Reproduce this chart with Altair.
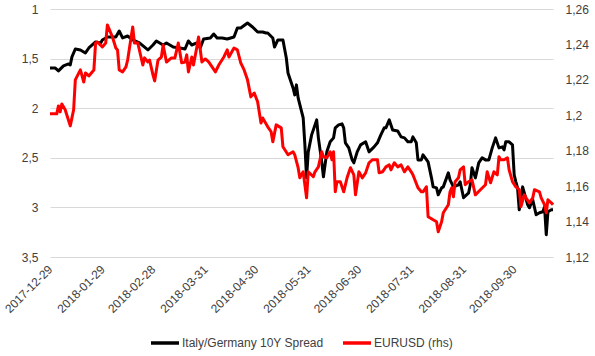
import altair as alt
import pandas as pd

SPREAD_NAME = "Italy/Germany 10Y Spread"
FX_NAME = "EURUSD (rhs)"

spread_dates = [
    "2017-12-29", "2018-01-01", "2018-01-03", "2018-01-06", "2018-01-09", "2018-01-10",
    "2018-01-11", "2018-01-13", "2018-01-16", "2018-01-19", "2018-01-21", "2018-01-25",
    "2018-01-28", "2018-01-29", "2018-02-01", "2018-02-06", "2018-02-08", "2018-02-10",
    "2018-02-13", "2018-02-16", "2018-02-20", "2018-02-25", "2018-02-28", "2018-03-02",
    "2018-03-06", "2018-03-08", "2018-03-12", "2018-03-16", "2018-03-19", "2018-03-21",
    "2018-03-23", "2018-03-26", "2018-03-28", "2018-03-30", "2018-04-03", "2018-04-05",
    "2018-04-07", "2018-04-10", "2018-04-13", "2018-04-17", "2018-04-19", "2018-04-21",
    "2018-04-25", "2018-04-28", "2018-05-01", "2018-05-04", "2018-05-06", "2018-05-07",
    "2018-05-10", "2018-05-11", "2018-05-13", "2018-05-16", "2018-05-18", "2018-05-19",
    "2018-05-22", "2018-05-23", "2018-05-24", "2018-05-25", "2018-05-28", "2018-05-29",
    "2018-05-30", "2018-05-31", "2018-06-02", "2018-06-05", "2018-06-06", "2018-06-08",
    "2018-06-09", "2018-06-11", "2018-06-13", "2018-06-15", "2018-06-16", "2018-06-18",
    "2018-06-20", "2018-06-21", "2018-06-22", "2018-06-24", "2018-06-26", "2018-06-27",
    "2018-06-29", "2018-07-01", "2018-07-04", "2018-07-06", "2018-07-09", "2018-07-11",
    "2018-07-13", "2018-07-15", "2018-07-16", "2018-07-18", "2018-07-20", "2018-07-23",
    "2018-07-25", "2018-07-27", "2018-07-29", "2018-07-31", "2018-08-01", "2018-08-03",
    "2018-08-04", "2018-08-06", "2018-08-07", "2018-08-10", "2018-08-12", "2018-08-13",
    "2018-08-15", "2018-08-16", "2018-08-18", "2018-08-19", "2018-08-22", "2018-08-23",
    "2018-08-25", "2018-08-28", "2018-08-29", "2018-08-31", "2018-09-03", "2018-09-04",
    "2018-09-05", "2018-09-07", "2018-09-09", "2018-09-11", "2018-09-13", "2018-09-15",
    "2018-09-17", "2018-09-19", "2018-09-21", "2018-09-23", "2018-09-24", "2018-09-25",
    "2018-09-27", "2018-09-29", "2018-09-30", "2018-10-01", "2018-10-02", "2018-10-03",
    "2018-10-05", "2018-10-06", "2018-10-08", "2018-10-09", "2018-10-11", "2018-10-13",
    "2018-10-15", "2018-10-17", "2018-10-18", "2018-10-19", "2018-10-20", "2018-10-22",
    "2018-10-23",
]
spread_values = [
    1.594, 1.594, 1.624, 1.574, 1.554, 1.564,
    1.483, 1.403, 1.413, 1.443, 1.393, 1.332,
    1.342, 1.312, 1.282, 1.282, 1.222, 1.292,
    1.272, 1.312, 1.342, 1.413, 1.363, 1.322,
    1.363, 1.342, 1.383, 1.393, 1.403, 1.322,
    1.363, 1.342, 1.393, 1.302, 1.292, 1.252,
    1.292, 1.292, 1.302, 1.282, 1.191, 1.191,
    1.141, 1.181, 1.232, 1.232, 1.242, 1.242,
    1.292, 1.383, 1.312, 1.312, 1.493, 1.645,
    1.796, 1.866, 1.765, 1.896, 2.098, 2.370,
    2.702, 2.440, 2.269, 2.118, 2.299, 2.541,
    2.692, 2.440, 2.339, 2.299, 2.198, 2.168,
    2.158, 2.198, 2.349, 2.400, 2.521, 2.551,
    2.440, 2.370, 2.339, 2.440, 2.390, 2.349,
    2.269, 2.198, 2.198, 2.118, 2.219, 2.229,
    2.289, 2.299, 2.339, 2.339, 2.289, 2.349,
    2.521, 2.521, 2.470, 2.541, 2.702, 2.793,
    2.803, 2.873, 2.803, 2.793, 2.652, 2.722,
    2.793, 2.772, 2.742, 2.903, 2.853, 2.772,
    2.601, 2.702, 2.551, 2.500, 2.521, 2.521,
    2.400, 2.299, 2.400, 2.390, 2.420, 2.339,
    2.339, 2.370, 2.672, 2.742, 2.803, 3.024,
    2.793, 2.853, 2.974, 3.004, 2.923, 3.074,
    3.054, 3.044, 2.994, 3.276, 3.044, 3.024,
    3.024,
]

fx_dates = [
    "2017-12-29", "2018-01-02", "2018-01-03", "2018-01-04", "2018-01-05", "2018-01-07",
    "2018-01-10", "2018-01-12", "2018-01-13", "2018-01-16", "2018-01-18", "2018-01-19",
    "2018-01-21", "2018-01-24", "2018-01-25", "2018-01-26", "2018-01-29", "2018-01-31",
    "2018-02-01", "2018-02-04", "2018-02-06", "2018-02-07", "2018-02-08", "2018-02-10",
    "2018-02-12", "2018-02-13", "2018-02-16", "2018-02-17", "2018-02-19", "2018-02-22",
    "2018-02-23", "2018-02-25", "2018-02-26", "2018-02-28", "2018-03-01", "2018-03-03",
    "2018-03-05", "2018-03-06", "2018-03-08", "2018-03-11", "2018-03-13", "2018-03-15",
    "2018-03-17", "2018-03-19", "2018-03-20", "2018-03-21", "2018-03-23", "2018-03-24",
    "2018-03-26", "2018-03-27", "2018-03-29", "2018-03-31", "2018-04-02", "2018-04-04",
    "2018-04-06", "2018-04-08", "2018-04-11", "2018-04-13", "2018-04-14", "2018-04-17",
    "2018-04-19", "2018-04-21", "2018-04-23", "2018-04-25", "2018-04-27", "2018-04-29",
    "2018-05-01", "2018-05-03", "2018-05-04", "2018-05-07", "2018-05-09", "2018-05-10",
    "2018-05-12", "2018-05-15", "2018-05-16", "2018-05-19", "2018-05-22", "2018-05-23",
    "2018-05-25", "2018-05-26", "2018-05-28", "2018-05-30", "2018-05-31", "2018-06-03",
    "2018-06-04", "2018-06-06", "2018-06-08", "2018-06-09", "2018-06-11", "2018-06-13",
    "2018-06-14", "2018-06-15", "2018-06-16", "2018-06-17", "2018-06-19", "2018-06-21",
    "2018-06-23", "2018-06-25", "2018-06-27", "2018-06-28", "2018-06-30", "2018-07-02",
    "2018-07-04", "2018-07-06", "2018-07-08", "2018-07-11", "2018-07-12", "2018-07-14",
    "2018-07-16", "2018-07-18", "2018-07-19", "2018-07-21", "2018-07-23", "2018-07-25",
    "2018-07-27", "2018-07-29", "2018-07-31", "2018-08-01", "2018-08-04", "2018-08-06",
    "2018-08-07", "2018-08-09", "2018-08-10", "2018-08-13", "2018-08-15", "2018-08-16",
    "2018-08-18", "2018-08-19", "2018-08-22", "2018-08-23", "2018-08-24", "2018-08-25",
    "2018-08-26", "2018-08-28", "2018-08-29", "2018-08-31", "2018-09-01", "2018-09-03",
    "2018-09-05", "2018-09-07", "2018-09-10", "2018-09-13", "2018-09-14", "2018-09-16",
    "2018-09-18", "2018-09-20", "2018-09-21", "2018-09-22", "2018-09-24", "2018-09-26",
    "2018-09-27", "2018-09-29", "2018-10-01", "2018-10-03", "2018-10-04", "2018-10-06",
    "2018-10-07", "2018-10-09", "2018-10-11", "2018-10-12", "2018-10-15", "2018-10-16",
    "2018-10-18", "2018-10-19", "2018-10-20", "2018-10-22", "2018-10-23",
]
fx_values = [
    1.2008, 1.2008, 1.2053, 1.2019, 1.2064, 1.2031,
    1.1940, 1.2031, 1.2200, 1.2256, 1.2188, 1.2239,
    1.2222, 1.2256, 1.2408, 1.2414, 1.2386, 1.2408,
    1.2510, 1.2442, 1.2380, 1.2369, 1.2256, 1.2245,
    1.2273, 1.2312, 1.2499, 1.2408, 1.2408, 1.2284,
    1.2324, 1.2301, 1.2312, 1.2228, 1.2194, 1.2312,
    1.2329, 1.2397, 1.2301, 1.2324, 1.2324, 1.2408,
    1.2296, 1.2301, 1.2341, 1.2245, 1.2329, 1.2284,
    1.2386, 1.2442, 1.2301, 1.2318, 1.2301, 1.2273,
    1.2245, 1.2284, 1.2329, 1.2369, 1.2329, 1.2380,
    1.2369, 1.2296, 1.2256, 1.2200, 1.2104, 1.2126,
    1.2076, 1.1957, 1.1985, 1.1935, 1.1907, 1.1850,
    1.1946, 1.1929, 1.1822, 1.1777, 1.1794, 1.1777,
    1.1704, 1.1647, 1.1681, 1.1534, 1.1681, 1.1653,
    1.1681, 1.1709, 1.1794, 1.1766, 1.1760, 1.1794,
    1.1749, 1.1794, 1.1568, 1.1625, 1.1625, 1.1568,
    1.1647, 1.1704, 1.1664, 1.1551, 1.1681, 1.1647,
    1.1675, 1.1732, 1.1749, 1.1749, 1.1675, 1.1681,
    1.1709, 1.1720, 1.1692, 1.1732, 1.1709, 1.1720,
    1.1681, 1.1709, 1.1681, 1.1664, 1.1591, 1.1568,
    1.1568, 1.1596, 1.1427, 1.1410, 1.1399, 1.1343,
    1.1399, 1.1450, 1.1495, 1.1568, 1.1591, 1.1540,
    1.1625, 1.1647, 1.1692, 1.1709, 1.1608, 1.1625,
    1.1636, 1.1551, 1.1580, 1.1608, 1.1681, 1.1619,
    1.1681, 1.1664, 1.1766, 1.1749, 1.1749, 1.1760,
    1.1692, 1.1625, 1.1596, 1.1580, 1.1484, 1.1551,
    1.1534, 1.1506, 1.1534, 1.1580, 1.1568, 1.1534,
    1.1495, 1.1450, 1.1523, 1.1506, 1.1495,
]

left_ticks = [1, 1.5, 2, 2.5, 3, 3.5]
right_ticks = [1.12, 1.14, 1.16, 1.18, 1.2, 1.22, 1.24, 1.26]
month_ticks = [(2017, 12, 29), (2018, 1, 29), (2018, 2, 28), (2018, 3, 31), (2018, 4, 30),
               (2018, 5, 31), (2018, 6, 30), (2018, 7, 31), (2018, 8, 31), (2018, 9, 30)]

spread_df = pd.DataFrame({"date": spread_dates, "value": spread_values, "series": SPREAD_NAME})
fx_df = pd.DataFrame({"date": fx_dates, "value": fx_values, "series": FX_NAME})

FONT = "Liberation Sans"
comma_expr = "replace(format(datum.value, '~g'), '.', ',')"

x_enc = alt.X(
    "date:T",
    scale=alt.Scale(type="utc",
                    domain=[alt.DateTime(year=2017, month=12, date=29, utc=True),
                            alt.DateTime(year=2018, month=10, date=23, utc=True)]),
    axis=alt.Axis(
        values=[alt.DateTime(year=y, month=m, date=d, utc=True) for (y, m, d) in month_ticks],
        labelExpr="utcFormat(datum.value, '%Y-%m-%d')",
        labelAngle=-45, labelAlign="right", labelBaseline="middle",
        labelPadding=10, labelOverlap=False, labelBound=False, labelFlush=False,
        grid=False, ticks=False, domain=False, title=None,
        labelFont=FONT, labelFontSize=12, labelColor="#404040",
    ),
)

color_enc = alt.Color(
    "series:N",
    scale=alt.Scale(domain=[SPREAD_NAME, FX_NAME], range=["#000000", "#ff0000"]),
    legend=alt.Legend(
        orient="none", legendX=99, legendY=318, direction="horizontal", title=None,
        symbolType="stroke", symbolSize=784, symbolStrokeWidth=3.5,
        labelFont=FONT, labelFontSize=12, labelColor="#404040",
        labelOffset=1, columnPadding=12, padding=0,
    ),
)

spread_line = alt.Chart(spread_df).mark_line(strokeWidth=3, strokeJoin="round").encode(
    x=x_enc,
    y=alt.Y(
        "value:Q",
        scale=alt.Scale(domain=[1, 3.5], reverse=True, nice=False, zero=False),
        axis=alt.Axis(values=left_ticks, labelExpr=comma_expr, grid=True, gridColor="#d9d9d9",
                      domain=False, ticks=False, labelPadding=12, title=None,
                      labelFont=FONT, labelFontSize=12, labelColor="#404040"),
    ),
    color=color_enc,
)

fx_line = alt.Chart(fx_df).mark_line(strokeWidth=3, strokeJoin="round").encode(
    x=x_enc,
    y=alt.Y(
        "value:Q",
        scale=alt.Scale(domain=[1.12, 1.26], nice=False, zero=False),
        axis=alt.Axis(orient="right", values=right_ticks, labelExpr=comma_expr, grid=False,
                      domain=False, ticks=False, labelPadding=12, title=None,
                      labelFont=FONT, labelFontSize=12, labelColor="#404040"),
    ),
    color=color_enc,
)

chart = (
    alt.layer(spread_line, fx_line)
    .resolve_scale(y="independent")
    .properties(
        width=503, height=248,
        padding={"left": 50, "top": 9, "right": 42, "bottom": 99},
        autosize=alt.AutoSizeParams(type="none"),
        background="white",
    )
    .configure_view(stroke=None)
)

chart.save("out.html", embed_options={"renderer": "svg", "actions": False})
